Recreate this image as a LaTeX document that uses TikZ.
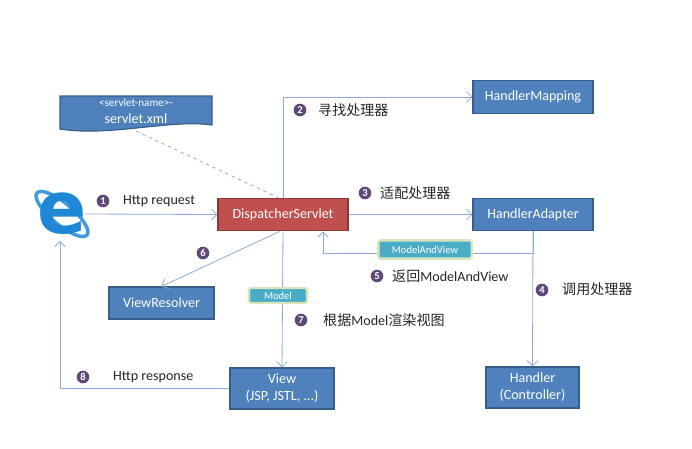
\documentclass[tikz,border=0pt]{standalone}
\usepackage{fontspec}
\setmainfont{Carlito}
\newfontfamily\cjk{Noto Sans CJK SC}
\newfontfamily\iefont{DejaVu Sans}
\usepackage{tikz}
\usetikzlibrary{shapes,arrows,arrows.meta,positioning}
\definecolor{boxblue}{HTML}{4F81BD}
\definecolor{boxedge}{HTML}{385D8A}
\definecolor{dispred}{HTML}{C0504D}
\definecolor{dispedge}{HTML}{8C3836}
\definecolor{tagteal}{HTML}{4BACC6}
\definecolor{tagedge}{HTML}{D7E4BD}
\definecolor{numpurple}{HTML}{5F497A}
\definecolor{linkblue}{HTML}{8EAADB}
\definecolor{labeltext}{HTML}{262626}
\definecolor{ieblue}{HTML}{1E88D6}

\begin{document}
\begin{tikzpicture}[x=0.03cm,y=-0.03cm,>={Straight Barb[length=1.6mm,width=3.2mm]},
                block/.style={draw=boxedge, fill=boxblue, text=white, line width=1pt, align=center, minimum width=3.6cm, minimum height=0.98cm, font=\fontsize{12}{14.5}\selectfont},
                dispatch/.style={block, draw=dispedge, fill=dispred, minimum width=3.9cm},
                tag/.style={draw=tagedge, fill=tagteal, text=white, line width=2pt, rounded corners=1.5pt, inner sep=1pt, font=\fontsize{9}{10}\selectfont},
                num/.style={circle, fill=numpurple, text=white, inner sep=0pt, minimum size=0.38cm, font=\fontsize{9}{9}\selectfont\bfseries},
                lbl/.style={anchor=west, text=labeltext, inner sep=0pt, font=\fontsize{12}{14}\selectfont},
                link/.style={draw=linkblue, line width=0.7pt}
                ]
                \useasboundingbox (0,0) rectangle (692,449);
                \node[dispatch] (disp) at (283,214.5) {DispatcherServlet};
                \node[block] (map) at (533,97) {HandlerMapping};
                \node[block] (adapt) at (533,214.5) {HandlerAdapter};
                \node[block, minimum width=2.79cm, minimum height=1.23cm] (handler) at (532.5,387.5) {Handler\\(Controller)};
                \node[block, minimum width=3.12cm, minimum height=1.23cm] (view) at (282,388.5) {View\\(JSP, JSTL, ...)};
                \node[block, minimum width=3.15cm, minimum height=0.96cm] (vres) at (161.5,303) {ViewResolver};
                \node[minimum width=1.5cm, minimum height=1.6cm, inner sep=0pt] (ie) at (60,214) {};
                \draw[ieblue!85, line width=3pt, rotate around={-40:(62,214)}] (62,214) ellipse [x radius=0.98cm, y radius=0.32cm];
                \node[text=ieblue, inner sep=0pt, font=\iefont\bfseries\fontsize{62}{62}\selectfont] (ieletter) at (62,214) {e};
                \draw[fill=boxblue, draw=boxedge, line width=1pt] (60,96) -- (212,96) -- (212,125) .. controls (170,119) and (110,137) .. (60,129) -- cycle;
                \node[text=white, inner sep=0pt, font=\fontsize{9.5}{10}\selectfont] (xmltag) at (136,103) {<servlet-name>-};
                \node[text=white, inner sep=0pt, font=\fontsize{12}{14}\selectfont] (xml) at (136,119) {servlet.xml};
                \coordinate (xmlbot) at (136,131);
                \coordinate (ret) at (323,253);
                \draw[link, dashed] (xmlbot) -- ([xshift=-0.15cm]disp.north);
                \draw[link,->] (ie.east) -- (disp.west);
                \draw[link,->] (disp.north) |- (map.west);
                \draw[link,->] (disp.east) -- (adapt.west);
                \draw[link,->] (adapt.south) -- (handler.north);
                \draw[link,->] (adapt.south) |- (ret) -- (ret |- disp.south);
                \draw[link,->] ([xshift=-0.1cm]disp.south) -- (vres.north);
                \draw[link,->] (disp.south) -- (view.north);
                \draw[link,->] (view.west) -| (ie.south);
                \node[tag, minimum width=2.8cm, minimum height=0.55cm] (mav) at (425,249.5) {ModelAndView};
                \node[tag, minimum width=1.75cm, minimum height=0.45cm] (model) at (278,295.5) {Model};
                \node[num] (n1) at (103,201) {1};
                \node[lbl] (l1) at (123,201) {Http request};
                \node[num] (n2) at (300,110) {2};
                \node[lbl] (l2) at (318,110) {\cjk 寻找处理器};
                \node[num] (n3) at (365,193) {3};
                \node[lbl] (l3) at (380,193) {\cjk 适配处理器};
                \node[num] (n4) at (542,290) {4};
                \node[lbl] (l4) at (562,289) {\cjk 调用处理器};
                \node[num] (n5) at (377,276) {5};
                \node[lbl] (l5) at (392,276) {{\cjk 返回}ModelAndView};
                \node[num] (n6) at (203,253) {6};
                \node[num] (n7) at (301,320) {7};
                \node[lbl] (l7) at (323,320) {{\cjk 根据}Model{\cjk 渲染视图}};
                \node[num] (n8) at (83,377) {8};
                \node[lbl] (l8) at (113,377) {Http response};
        \end{tikzpicture}
\end{document}
